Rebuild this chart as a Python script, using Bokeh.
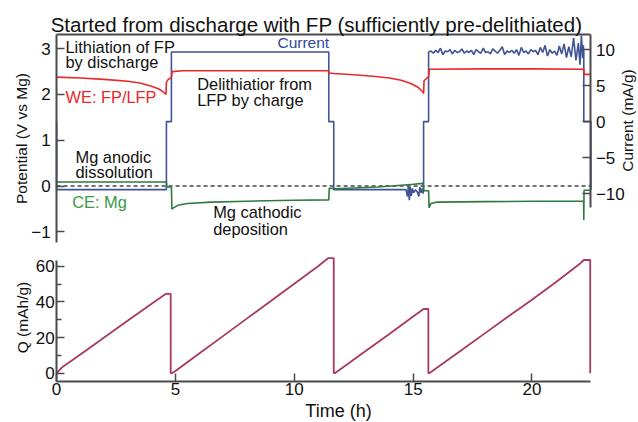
from bokeh.plotting import figure
from bokeh.models import Range1d, LinearAxis, FixedTicker, Label
from bokeh.embed import file_html
from bokeh.resources import INLINE

# ---------------- data ----------------
# WE potential (V vs Mg)
we_t = [0.0, 1.0, 2.0, 3.0, 3.5, 4.0, 4.3, 4.5, 4.6,
        4.62, 4.7, 4.8, 4.83, 4.86,
        5.3, 8.0, 11.45, 11.47, 11.66,
        12.5, 13.3, 14.0, 14.5, 14.9,
        15.2, 15.4, 15.44, 15.46, 15.58,
        15.65, 15.68, 18.0, 20.0, 22.18,
        22.2, 22.48]
we_v = [2.38, 2.36, 2.33, 2.29, 2.25, 2.18, 2.12, 2.05, 2.0,
        2.27, 2.33, 2.36, 2.37, 2.50,
        2.52, 2.52, 2.52, 2.47, 2.46,
        2.43, 2.40, 2.36, 2.31, 2.24,
        2.16, 2.06, 2.02, 2.30, 2.36,
        2.38, 2.55, 2.56, 2.56, 2.55,
        2.44, 2.44]

# CE potential (V vs Mg)
ce_t = [0.0, 4.62, 4.64, 4.83, 4.85,
        4.9, 5.1, 5.5, 6.5, 8.0,
        10.0, 11.45, 11.47, 11.66, 11.7,
        12.5, 13.5, 14.5, 15.0, 15.42,
        15.44, 15.65, 15.67, 15.75, 16.0,
        18.0, 20.0, 22.17, 22.18, 22.19,
        22.48]
ce_v = [0.09, 0.09, -0.02, -0.02, -0.50,
        -0.48, -0.42, -0.38, -0.35, -0.33,
        -0.31, -0.30, -0.05, -0.05, -0.06,
        -0.04, -0.02, 0.02, 0.04, 0.06,
        -0.10, -0.10, -0.47, -0.38, -0.35,
        -0.34, -0.33, -0.33, -0.74, -0.09,
        -0.09]

# Current (mA/g): steps and the noisy stretches
cur_t_a = [0.0, 0.0, 4.62, 4.62, 4.83, 4.83, 11.45, 11.45, 11.66, 11.66]
cur_v_a = [0.0, -9.45, -9.45, 0.0, 0.0, 9.67, 9.67, 0.0, 0.0, -9.45]
cur_t_b = [14.70, 14.76, 14.80, 14.84, 14.88, 14.92, 14.97, 15.02, 15.10, 15.18,
           15.24, 15.28, 15.33, 15.38, 15.42, 15.44]
cur_v_b = [-9.45, -10.4, -8.9, -10.9, -9.1, -10.3, -9.3, -9.9, -9.45, -9.8,
           -10.4, -9.1, -9.9, -9.3, -10.0, -9.45]
cur_t_c = [15.44, 15.65, 15.65]
cur_v_c = [0.0, 0.0, 9.67]
cur_t_d = [15.75, 15.85, 15.95, 16.05, 16.15, 16.25, 16.35, 16.45, 16.55, 16.65,
           16.75, 16.85, 16.95, 17.05, 17.15, 17.25, 17.35, 17.45, 17.55, 17.65,
           17.75, 17.85, 17.95, 18.05, 18.15, 18.25, 18.35, 18.45, 18.55, 18.65,
           18.75, 18.85, 18.95, 19.05, 19.15, 19.25, 19.35, 19.45, 19.55, 19.65,
           19.75, 19.85, 19.95, 20.05, 20.15, 20.25, 20.35, 20.45, 20.55, 20.65,
           20.75, 20.85, 20.95, 21.05, 21.15, 21.25, 21.35, 21.45, 21.55, 21.65,
           21.75, 21.85, 21.95, 22.02, 22.08, 22.13, 22.16]
cur_v_d = [9.8, 9.5, 9.9, 9.6, 10.2, 9.3, 9.8, 9.7, 10.0, 9.4,
           9.9, 9.6, 9.7, 10.1, 9.5, 9.8, 9.6, 9.9, 9.3, 10.0,
           9.7, 9.5, 10.2, 9.6, 9.7, 9.4, 10.1, 9.8, 9.5, 9.9,
           10.4, 9.3, 9.8, 9.6, 9.9, 9.5, 10.0, 9.2, 10.3, 9.6,
           9.8, 9.4, 10.0, 9.7, 9.9, 9.3, 10.3, 9.6, 10.6, 9.1,
           10.0, 9.5, 9.8, 9.2, 10.5, 9.4, 10.8, 8.9, 10.4, 9.0,
           11.6, 8.5, 10.9, 7.9, 12.0, 8.8, 10.6]
cur_t_e = [22.18, 22.18, 22.48, 22.48]
cur_v_e = [9.67, 0.0, 0.0, -9.45]

# Capacity Q (mAh/g)
q_t = [0.0, 0.25, 1.0, 2.0, 3.0, 4.0, 4.6, 4.8, 4.8, 4.85,
       5.0, 6.0, 7.0, 8.0, 9.0, 10.0, 11.0, 11.42, 11.66, 11.66,
       11.7, 12.0, 13.0, 14.0, 15.0, 15.44, 15.64, 15.64, 15.68, 16.0,
       17.0, 18.0, 19.0, 20.0, 21.0, 22.0, 22.18, 22.45, 22.45]
q_v = [0.0, 3.5, 10.5, 20.0, 29.5, 39.0, 44.5, 44.5, 0.0, 0.0,
       1.2, 11.0, 20.8, 30.6, 40.4, 50.2, 60.0, 64.5, 64.5, 0.0,
       0.0, 2.8, 12.4, 22.0, 31.8, 36.0, 36.0, 0.0, 0.0, 3.0,
       12.6, 22.2, 31.8, 41.2, 51.0, 61.2, 63.5, 63.5, 0.0]

# axes / ticks
pot_ticks = [-1, 0, 1, 2, 3]
pot_span = (-1.23, 3.31)
cur_ticks = [-10, -5, 0, 5, 10]
cur_span = (-11.9, 12.1)
q_ticks = [0, 20, 40, 60]
q_minor = [10, 30, 50]
q_span = (-4.655, 63.2)
t_ticks = [0, 5, 10, 15, 20]
t_span = (0.0, 22.48)
zero_level = [0.0, 0.0]

cur_t = cur_t_a + cur_t_b + cur_t_c + cur_t_d + cur_t_e
cur_v = cur_v_a + cur_v_b + cur_v_c + cur_v_d + cur_v_e

# ---------------- styling ----------------
FONT = "Liberation Sans"
AX = "#4a4a4a"
BLUE = "#3f5396"
RED = "#e8282a"
GREEN = "#2f7a40"
QCOL = "#a8395f"

p = figure(width=638, height=422,
           x_range=Range1d(-2.360, 24.481), y_range=Range1d(-5.1616, 4.0524),
           output_backend="svg", toolbar_location=None,
           x_axis_location=None, y_axis_location=None,
           min_border=0, min_border_left=0, min_border_right=0,
           min_border_top=0, min_border_bottom=0)
p.extra_y_ranges = {"cur": Range1d(-41.789, 16.822),
                    "q": Range1d(-27.65, 209.03)}
p.outline_line_color = None
p.xgrid.visible = False
p.ygrid.visible = False


def style_axis(ax, minor=False):
    ax.axis_line_color = AX
    ax.axis_line_width = 2
    ax.major_tick_line_color = AX
    ax.major_tick_line_width = 1.5
    ax.major_tick_in = 8
    ax.major_tick_out = 0
    if minor:
        ax.minor_tick_line_color = AX
        ax.minor_tick_line_width = 1.5
        ax.minor_tick_in = 5
        ax.minor_tick_out = 0
    else:
        ax.minor_tick_line_color = None
    ax.major_label_text_font = FONT
    ax.major_label_text_font_size = "17px"
    ax.major_label_text_color = "#111111"


# potential axis (left of top panel)
ax_pot = LinearAxis(bounds=pot_span, fixed_location=t_span[0],
                    ticker=FixedTicker(ticks=pot_ticks))
style_axis(ax_pot)
ax_pot.major_label_standoff = 6
p.add_layout(ax_pot, "left")

# current axis (right of top panel)
ax_cur = LinearAxis(y_range_name="cur", bounds=cur_span, fixed_location=t_span[1],
                    ticker=FixedTicker(ticks=cur_ticks))
style_axis(ax_cur)
ax_cur.major_label_standoff = 5
p.add_layout(ax_cur, "right")

# top frame line of the upper panel
ax_top = LinearAxis(bounds=t_span, fixed_location=pot_span[1],
                    ticker=FixedTicker(ticks=[]))
style_axis(ax_top)
ax_top.major_label_text_font_size = "0px"
p.add_layout(ax_top, "above")

# Q axis (left of bottom panel)
ax_q = LinearAxis(y_range_name="q", bounds=q_span, fixed_location=t_span[0],
                  ticker=FixedTicker(ticks=q_ticks, minor_ticks=q_minor))
style_axis(ax_q, minor=True)
ax_q.major_label_standoff = 2
p.add_layout(ax_q, "left")

# time axis (bottom)
ax_t = LinearAxis(y_range_name="q", bounds=t_span, fixed_location=q_span[0],
                  ticker=FixedTicker(ticks=t_ticks))
style_axis(ax_t)
ax_t.major_label_standoff = 2
p.add_layout(ax_t, "below")

# zero reference (dashed)
p.line(list(t_span), zero_level, line_color="#444444", line_width=1.5,
       line_dash="4 3")

p.line(cur_t, cur_v, y_range_name="cur", line_color=BLUE, line_width=1.6)
p.line(ce_t, ce_v, line_color=GREEN, line_width=1.6)
p.line(we_t, we_v, line_color=RED, line_width=1.6)
p.line(q_t, q_v, y_range_name="q", line_color=QCOL, line_width=1.8)


def add_text(text, x, y, color="#111111", size="16.4px", angle=0.0,
             align="left"):
    p.add_layout(Label(x=x, y=y, text=text, text_color=color,
                       text_font=FONT, text_font_size=size,
                       text_align=align, text_baseline="middle",
                       angle=angle))


add_text("Started from discharge with FP (sufficiently pre-delithiated)",
         -0.25, 3.539, size="20.5px")
add_text("Lithiation of FP", 0.374, 3.048)
add_text("by discharge", 0.374, 2.705)
add_text("WE: FP/LFP", 0.374, 1.941, color=RED)
add_text("Mg anodic", 0.795, 0.646)
add_text("dissolution", 0.795, 0.302)
add_text("CE: Mg", 0.656, -0.352, color="#3a9a48")
add_text("Current", 9.293, 3.135, color="#2d4a9c", size="15.5px")
add_text("Delithiatior from", 5.915, 2.234)
add_text("LFP by charge", 5.915, 1.869)
add_text("Mg cathodic", 6.588, -0.570)
add_text("deposition", 6.588, -0.933)
add_text("Potential (V vs Mg)", -1.477, 1.039, size="15.5px", angle=1.5708,
         align="center")
add_text("Current (mA/g)", 24.018, 1.432, size="15.5px", angle=1.5708,
         align="center")
add_text("Q (mAh/g)", -1.435, -2.869, size="15.5px", angle=1.5708,
         align="center")
add_text("Time (h)", 11.86, -4.921, size="18px", align="center")

open("out.html", "w").write(file_html(p, INLINE))
